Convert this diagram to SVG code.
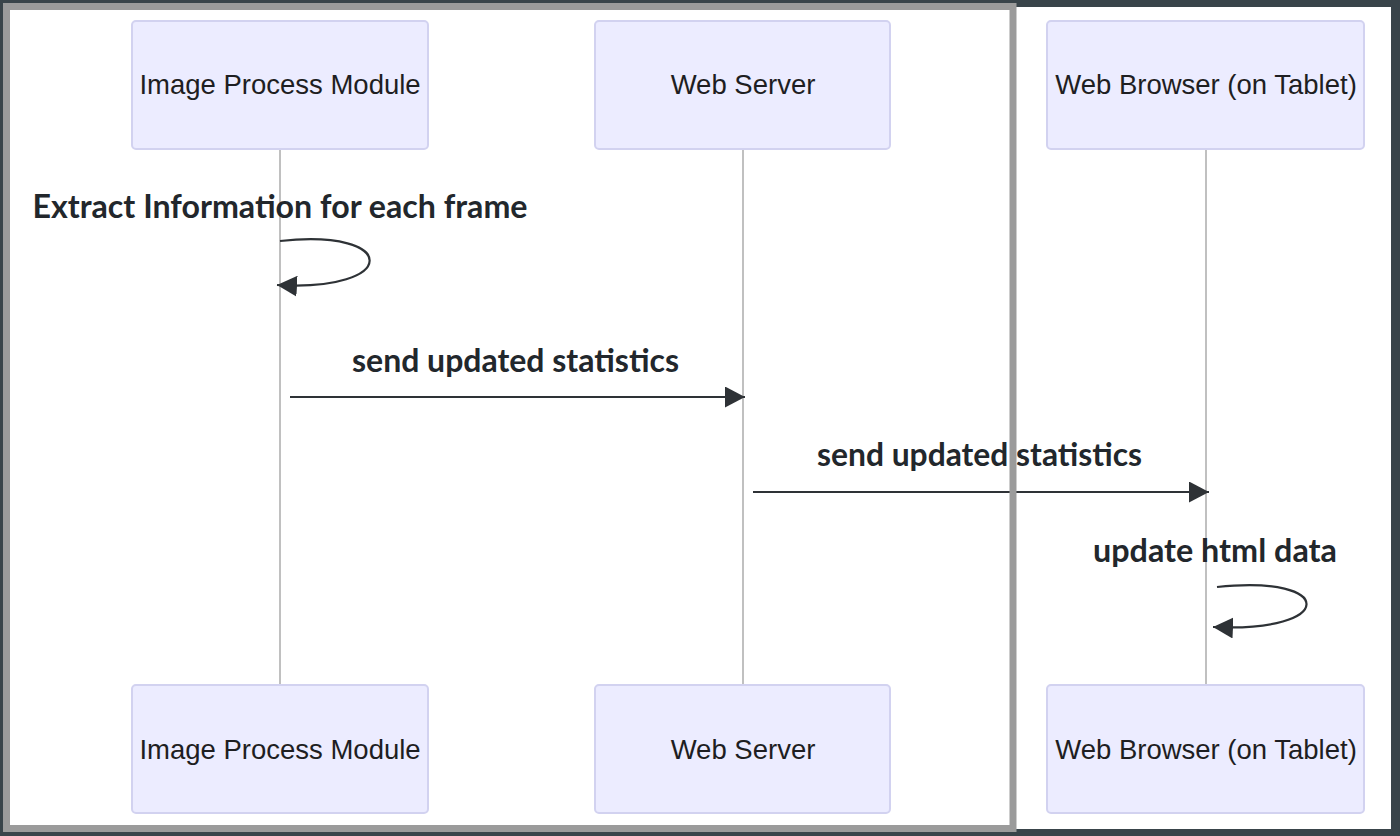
<svg xmlns="http://www.w3.org/2000/svg" width="1400" height="836" viewBox="0 0 1400 836">
  <style>
    .actor rect { fill: #ECECFF; stroke: #d2d2f0; stroke-width: 2; }
    .actor text { font-family: "Liberation Sans", Arial, sans-serif; font-size: 27.5px; fill: #1e1e22; text-anchor: middle; }
    .lifeline { stroke: #ababab; stroke-width: 1.5; }
    .msg { fill: none; stroke: #2e3236; stroke-width: 2.2; }
    .msgtext { font-family: "Lato", "Open Sans", sans-serif; font-weight: 700; font-size: 32px; fill: #22272c; text-anchor: middle; }
  </style>
  <defs>
    <marker id="arrow" markerUnits="userSpaceOnUse" viewBox="0 0 20 21" refX="20" refY="10.5" markerWidth="20" markerHeight="21" orient="auto">
      <path d="M0,0 L20,10.5 L0,21 z" fill="#2e3236"/>
    </marker>
  </defs>

  <rect x="0" y="0" width="1400" height="836" fill="#39444a"/>
  <rect x="3" y="7" width="1388" height="822" fill="#ffffff"/>

  <g id="lifelines">
    <line class="lifeline" x1="280" y1="149" x2="280" y2="684"/>
    <line class="lifeline" x1="743" y1="149" x2="743" y2="684"/>
    <line class="lifeline" x1="1206" y1="149" x2="1206" y2="684"/>
  </g>

  <g id="actor-image-top" class="actor">
    <rect x="132" y="21" width="296" height="128" rx="4"/>
    <text x="280" y="94">Image Process Module</text>
  </g>
  <g id="actor-server-top" class="actor">
    <rect x="595" y="21" width="295" height="128" rx="4"/>
    <text x="743" y="94">Web Server</text>
  </g>
  <g id="actor-browser-top" class="actor">
    <rect x="1047" y="21" width="317" height="128" rx="4"/>
    <text x="1206" y="94">Web Browser (on Tablet)</text>
  </g>
  <g id="actor-image-bottom" class="actor">
    <rect x="132" y="685" width="296" height="128" rx="4"/>
    <text x="280" y="759">Image Process Module</text>
  </g>
  <g id="actor-server-bottom" class="actor">
    <rect x="595" y="685" width="295" height="128" rx="4"/>
    <text x="743" y="759">Web Server</text>
  </g>
  <g id="actor-browser-bottom" class="actor">
    <rect x="1047" y="685" width="317" height="128" rx="4"/>
    <text x="1206" y="759">Web Browser (on Tablet)</text>
  </g>

  <g id="connectors">
    <text class="msgtext" x="280" y="218" textLength="495" lengthAdjust="spacingAndGlyphs">Extract Information for each frame</text>
    <path class="msg" d="M280,241 C400,228 400,292 277,285" marker-end="url(#arrow)"/>

    <text class="msgtext" x="515.5" y="372" textLength="327" lengthAdjust="spacingAndGlyphs">send updated statistics</text>
    <path class="msg" d="M290,397 L745,397" marker-end="url(#arrow)"/>

    <text class="msgtext" x="979.5" y="466" textLength="325" lengthAdjust="spacingAndGlyphs">send updated statistics</text>
    <path class="msg" d="M753,492 L1209,492" marker-end="url(#arrow)"/>

    <text class="msgtext" x="1215" y="562" textLength="244" lengthAdjust="spacingAndGlyphs">update html data</text>
    <path class="msg" d="M1217,587 C1337,574 1337,633 1213,627" marker-end="url(#arrow)"/>
  </g>

  <rect id="frame" x="6.5" y="6.5" width="1006.5" height="822" fill="none" stroke="#9b9b9b" stroke-width="7"/>
</svg>
